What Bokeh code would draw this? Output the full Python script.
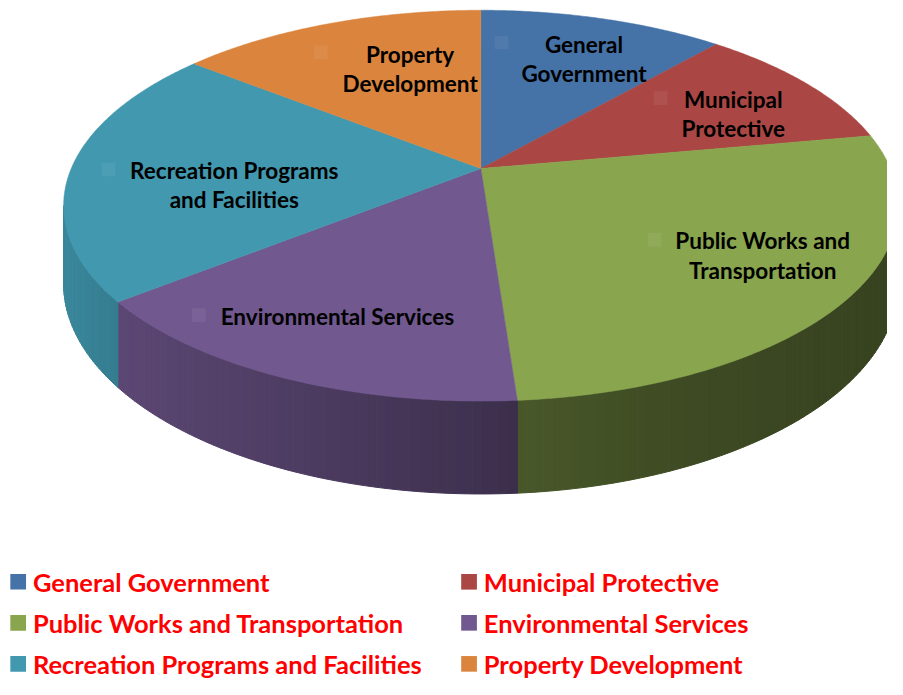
import numpy as np
from bokeh.plotting import figure
from bokeh.models import Range1d, ColumnDataSource
from bokeh.embed import file_html
from bokeh.resources import INLINE
from bokeh.core.properties import value

# ---------------- data ----------------
categories = ["General Government", "Municipal Protective",
              "Public Works and Transportation", "Environmental Services",
              "Recreation Programs and Facilities", "Property Development"]
shares = [11.4, 10.7, 26.7, 15.4, 21.4, 14.3]
colors = ["#4572A7", "#AA4643", "#89A54E", "#71588F", "#4198AF", "#DB843D"]
label_lines = [["General", "Government"], ["Municipal", "Protective"],
               ["Public Works and", "Transportation"], ["Environmental Services"],
               ["Recreation Programs", "and Facilities"], ["Property", "Development"]]

# ---------------- layout (reference pixel space) ----------------
CX, CY = 489.0, 172.0      # apex of the pie on screen
A, B = 417.0, 192.8        # horizontal / vertical radius factors
K = 0.19                   # perspective strength
DEPTH = 77.0               # thickness of the pie
label_pos = [(594, 45), (746, 101), (776, 246), (343, 323), (238, 174), (417, 55)]
key_pos = [(510, 43), (672, 100), (666, 245), (202, 322), (110, 173), (326, 53)]
LINE_GAP = 30


def proj(phi, r=1.0, depth=0.0):
    u = r * np.sin(phi)
    v = -r * np.cos(phi)
    den = 1 - K * v
    return CX + A * u / den, CY + (B * v + depth) / den


def hex2rgb(h):
    h = h.lstrip("#")
    return np.array([int(h[i:i + 2], 16) for i in (0, 2, 4)], dtype=float)


def rgb2hex(c):
    c = np.clip(np.round(c), 0, 255).astype(int)
    return "#%02x%02x%02x" % tuple(c)


shade_x = [64, 130, 527, 700, 914]
shade_f = [0.89, 0.80, 0.53, 0.45, 0.40]

total = float(sum(shares))
angles = np.cumsum([0.0] + [s / total * 2 * np.pi for s in shares])

w0 = np.arccos(-K)
w1 = 2 * np.pi - w0

p = figure(width=887, height=679, x_range=Range1d(0, 903), y_range=Range1d(695, 0),
           output_backend="svg", toolbar_location=None, min_border=0)
p.axis.visible = False
p.grid.visible = False
p.outline_line_color = None
p.background_fill_color = "white"
p.border_fill_color = "white"

# ---- side walls ----
wx, wy, wc = [], [], []
for i in range(len(shares)):
    a, b = angles[i], angles[i + 1]
    lo, hi = max(a, w0), min(b, w1)
    if hi <= lo:
        continue
    n = max(2, int(np.degrees(hi - lo) / 1.0))
    ph = np.linspace(lo, hi, n + 1)
    base = hex2rgb(colors[i])
    for j in range(n):
        tx0, ty0 = proj(ph[j])
        tx1, ty1 = proj(ph[j + 1])
        bx0, by0 = proj(ph[j], depth=DEPTH)
        bx1, by1 = proj(ph[j + 1], depth=DEPTH)
        xm = (tx0 + tx1) / 2
        f = np.interp(xm, shade_x, shade_f)
        wx.append([tx0, tx1, bx1, bx0])
        wy.append([ty0, ty1, by1, by0])
        wc.append(rgb2hex(base * f))
p.patches(xs="xs", ys="ys", fill_color="c", line_color="c", line_width=1,
          source=ColumnDataSource(dict(xs=wx, ys=wy, c=wc)))

# ---- top faces ----
txs, tys = [], []
for i in range(len(shares)):
    a, b = angles[i], angles[i + 1]
    n = max(4, int(np.degrees(b - a) / 0.5))
    ph = np.linspace(a, b, n + 1)
    x, y = proj(ph)
    txs.append([CX] + list(x))
    tys.append([CY] + list(y))
p.patches(xs="xs", ys="ys", fill_color="c", line_color="c", line_width=0.5,
          source=ColumnDataSource(dict(xs=txs, ys=tys, c=colors)))

# ---- faint keys inside labels ----
kc = [rgb2hex(hex2rgb(c) * 0.94 + 255 * 0.06) for c in colors]
p.rect(x=[k[0] for k in key_pos], y=[k[1] for k in key_pos], width=14, height=14,
       fill_color=kc, line_color=None)

# ---- data labels ----
lx, ly, lt = [], [], []
for i, lines in enumerate(label_lines):
    for j, t in enumerate(lines):
        lx.append(label_pos[i][0])
        ly.append(label_pos[i][1] + j * LINE_GAP)
        lt.append(t)
p.text(x=lx, y=ly, text=lt, text_align="center", text_baseline="middle",
       text_font=value("Lato"), text_font_style="bold", text_font_size="22.5px",
       text_color="black")

# ---- legend ----
col_sw = [18, 477]
col_tx = [33, 492]
rows_y = [595, 637, 679]
sx, sy, tx, ty = [], [], [], []
for i in range(len(categories)):
    c, r = i % 2, i // 2
    sx.append(col_sw[c]); sy.append(rows_y[r])
    tx.append(col_tx[c]); ty.append(rows_y[r])
p.rect(x=sx, y=sy, width=16, height=16, fill_color=colors, line_color=None)
p.text(x=tx, y=ty, text=categories, text_align="left", text_baseline="middle",
       text_font=value("Lato"), text_font_style="bold", text_font_size="25.5px",
       text_color="#FF0000")

open("out.html", "w").write(file_html(p, INLINE))
